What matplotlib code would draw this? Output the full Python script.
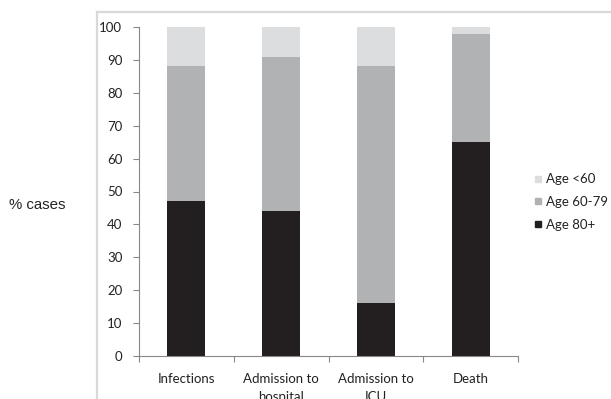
import matplotlib
matplotlib.use("Agg")
import matplotlib.pyplot as plt
from matplotlib.lines import Line2D

categories = ["Infections", "Admission to\nhospital", "Admission to\nICU", "Death"]
age_80_plus = [47, 44, 16, 65]
age_60_79 = [41, 47, 72, 33]
age_under_60 = [12, 9, 12, 2]
series_names = ["Age <60", "Age 60-79", "Age 80+"]
colors = {"Age 80+": "#231f20", "Age 60-79": "#b1b2b4", "Age <60": "#dcdddf"}

W, H = 611, 399
fig = plt.figure(figsize=(W / 100, H / 100), dpi=100)
ax = fig.add_axes([139 / W, 1 - 356 / H, (518 - 139) / W, (356 - 27) / H])

x = list(range(len(categories)))
bw = 0.4
bottom2 = age_80_plus
bottom3 = [a + b for a, b in zip(age_80_plus, age_60_79)]
ax.bar(x, age_80_plus, bw, color=colors["Age 80+"], zorder=2)
ax.bar(x, age_60_79, bw, bottom=bottom2, color=colors["Age 60-79"], zorder=2)
ax.bar(x, age_under_60, bw, bottom=bottom3, color=colors["Age <60"], zorder=2)

ax.set_xlim(-0.5, len(categories) - 0.5)
ax.set_ylim(0, 100)
ax.set_yticks(range(0, 101, 10))
tickfont = dict(family="Lato", size=9.5, color="#222222")
ax.set_yticklabels([str(v) for v in range(0, 101, 10)], **tickfont)
ax.set_xticks([i - 0.5 for i in range(len(categories) + 1)])
ax.set_xticklabels([])
ax.set_xticks(x, minor=True)
ax.set_xticklabels(categories, minor=True, **tickfont, linespacing=1.6, va="top")
ax.tick_params(axis="x", which="minor", length=0, pad=12)
ax.tick_params(axis="x", which="major", length=4, color="#888888", direction="out")
ax.tick_params(axis="y", length=4, color="#888888", pad=8)
for s in ["top", "right"]:
    ax.spines[s].set_visible(False)
for s in ["left", "bottom"]:
    ax.spines[s].set_color("#888888")
    ax.spines[s].set_linewidth(0.8)

fig.text(9 / W, 1 - 205 / H, "% cases", family="Liberation Sans", size=10.8,
         va="center", ha="left", color="#222222")

handles = [Line2D([], [], marker="s", linestyle="none", markersize=5,
                  markerfacecolor=colors[n], markeredgecolor=colors[n]) for n in series_names]
leg = fig.legend(handles, series_names, loc="center left",
                 bbox_to_anchor=(533 / W, 1 - 202 / H), frameon=False,
                 prop=dict(family="Lato", size=9.5), handlelength=0.7,
                 handletextpad=0.3, labelspacing=0.8, borderaxespad=0,
                 borderpad=0)
for t in leg.get_texts():
    t.set_color("#222222")

# outer chart-area frame (top and left edges visible)
fig.add_artist(Line2D([97 / W, 610 / W], [1 - 12 / H, 1 - 12 / H],
                      transform=fig.transFigure, color="#d9d9d9", lw=1.6))
fig.add_artist(Line2D([97 / W, 97 / W], [1 - 12 / H, 0],
                      transform=fig.transFigure, color="#d9d9d9", lw=1.6))

fig.savefig("out.png", dpi=100)
